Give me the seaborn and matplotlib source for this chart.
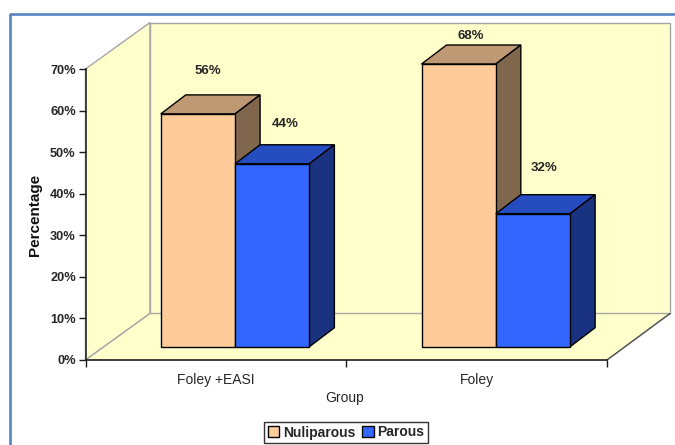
import matplotlib
matplotlib.use("Agg")
import matplotlib.pyplot as plt
from matplotlib.patches import Polygon
from matplotlib.colors import to_rgb
from matplotlib.lines import Line2D
import pandas as pd
import seaborn as sns

groups = ["Foley +EASI", "Foley"]
series_names = ["Nuliparous", "Parous"]
nuliparous = [56, 68]
parous = [44, 32]
y_ticks = [0, 10, 20, 30, 40, 50, 60, 70]
series_colors = ["#FFCC99", "#3366FF"]

W, H = 675, 445
AX_L, AX_R, AX_B, AX_T = 85.5, 607.0, 360.0, 69.0
WALL_DX, WALL_DY = 64.5, 46.5
BAR_SHIFT_X, BAR_SHIFT_Y = 19.2, 13.3
BAR_DX, BAR_DY = 25.0, 19.0
TEXT = "#262626"

sns.set_style("white")
plt.rcParams["font.family"] = ["Liberation Sans", "DejaVu Sans"]

frame = pd.DataFrame({
    "Group": groups * 2,
    "Series": [series_names[0]] * 2 + [series_names[1]] * 2,
    "Value": nuliparous + parous,
})

fig = plt.figure(figsize=(W / 100, H / 100), dpi=100, facecolor="white")


def axes_box(left, right, bottom, top):
    return [left / W, 1 - bottom / H, (right - left) / W, (bottom - top) / H]


# Pixel-space layer for the chart frame and the 3D walls
bg = fig.add_axes([0, 0, 1, 1], zorder=0)
bg.set_xlim(0, W)
bg.set_ylim(H, 0)
bg.axis("off")
bg.add_line(Line2D([9.5, 9.5, W], [H, 13.5, 13.5], color="#5585C0", lw=1.9))

wall_fill = "#FFFFCC"
wall_edge = "#A6A6A6"
xb, xr = AX_L + WALL_DX, W - 5
yb, yt = AX_B - WALL_DY, AX_T - WALL_DY
bg.add_patch(Polygon([(AX_L, AX_T), (xb, yt), (xb, yb), (AX_L, AX_B)],
                     fc=wall_fill, ec=wall_edge, lw=1))
bg.add_patch(Polygon([(xb, yt), (xr, yt), (xr, yb), (xb, yb)],
                     fc=wall_fill, ec=wall_edge, lw=1))
bg.add_patch(Polygon([(AX_L, AX_B), (AX_R, AX_B), (xr, yb), (xb, yb)],
                     fc=wall_fill, ec=wall_edge, lw=1))
bg.add_line(Line2D([AX_R, xr], [AX_B, yb], color="#555555", lw=1))

# Value axis and category axis
ax = fig.add_axes(axes_box(AX_L, AX_R, AX_B, AX_T), zorder=1)
ax.patch.set_visible(False)
ax.set_xlim(-0.5, 1.5)
ax.set_ylim(y_ticks[0], y_ticks[-1])
for side in ("top", "right"):
    ax.spines[side].set_visible(False)
for side in ("left", "bottom"):
    ax.spines[side].set_color("#1a1a1a")
    ax.spines[side].set_linewidth(1.1)
ax.set_yticks(y_ticks)
ax.set_yticklabels([f"{v}%" for v in y_ticks], fontsize=9.2, fontweight="bold", color=TEXT)
ax.set_xticks([-0.5, 0.5, 1.5])
ax.set_xticklabels([])
ax.set_xticks([0, 1], minor=True)
ax.set_xticklabels(groups, minor=True, fontsize=10, color=TEXT)
ax.tick_params(axis="x", which="major", length=5, width=1, color="#1a1a1a", bottom=True)
ax.tick_params(axis="x", which="minor", length=0, pad=9.5, bottom=True)
ax.tick_params(axis="y", length=5, width=1, color="#1a1a1a", left=True, pad=2)
ax.set_xlabel("Group", fontsize=10, color=TEXT, labelpad=2)
ax.xaxis.set_label_coords((345 - AX_L) / (AX_R - AX_L), (AX_B - 391) / (AX_B - AX_T))
ax.set_ylabel("Percentage", fontsize=11, fontweight="bold", color="#111111", labelpad=6)

# Bars sit on a plane pushed back into the box
bars = fig.add_axes(axes_box(AX_L + BAR_SHIFT_X, AX_R + BAR_SHIFT_X,
                             AX_B - BAR_SHIFT_Y, AX_T - BAR_SHIFT_Y), zorder=2)
sns.barplot(data=frame, x="Group", y="Value", hue="Series", order=groups,
            hue_order=series_names, palette=series_colors, saturation=1,
            width=0.57, gap=0, edgecolor="black", linewidth=1, ax=bars)
bars.set_xlim(-0.5, 1.5)
bars.set_ylim(y_ticks[0], y_ticks[-1])
bars.axis("off")
bars.patch.set_visible(False)

dx = BAR_DX * 2 / (AX_R - AX_L)
dy = BAR_DY * (y_ticks[-1] - y_ticks[0]) / (AX_B - AX_T)


def shade(color, factor):
    return tuple(c * factor for c in to_rgb(color))


# Label offsets in pixels from each bar's top-centre, per series then group
label_offsets = [[(10, 43), (12, 28.5)], [(13, 39.5), (11.5, 46)]]

for s, container in enumerate(bars.containers):
    color = series_colors[s]
    z = 2 + s * 2
    for g, rect in enumerate(container):
        rect.set_zorder(z + 1)
        rect.set_clip_on(False)
        x0, x1 = rect.get_x(), rect.get_x() + rect.get_width()
        y1 = rect.get_height()
        bars.add_patch(Polygon([(x0, y1), (x0 + dx, y1 + dy), (x1 + dx, y1 + dy), (x1, y1)],
                               fc=shade(color, 0.75), ec="black", lw=1, zorder=z, clip_on=False))
        bars.add_patch(Polygon([(x1, 0), (x1 + dx, dy), (x1 + dx, y1 + dy), (x1, y1)],
                               fc=shade(color, 0.5), ec="black", lw=1, zorder=z, clip_on=False))
        off_x, off_y = label_offsets[s][g]
        bars.annotate(f"{y1:.0f}%", xy=((x0 + x1) / 2, y1),
                      xytext=(off_x * 0.72, off_y * 0.72), textcoords="offset points",
                      ha="center", va="center", fontsize=9.5, fontweight="bold",
                      color=TEXT, zorder=9)

handles, labels = bars.get_legend_handles_labels()
if bars.get_legend() is not None:
    bars.get_legend().remove()
fig.legend(handles, labels, loc="center", ncol=2,
           bbox_to_anchor=(346 / W, 1 - 432.5 / H),
           frameon=True, fancybox=False, edgecolor="#333333", facecolor="white",
           framealpha=1, handlelength=0.85, handleheight=0.85,
           handletextpad=0.25, columnspacing=0.5, borderpad=0.25,
           labelcolor=TEXT, prop={"weight": "bold", "size": 10})

fig.savefig("out.png", dpi=100)
